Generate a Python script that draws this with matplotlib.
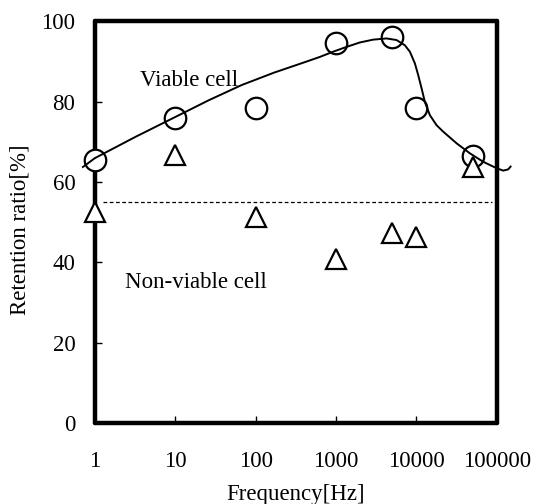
import matplotlib
matplotlib.use("Agg")
import matplotlib.pyplot as plt

plt.rcParams['font.family'] = ['Liberation Serif', 'DejaVu Serif']

# measured points
freq = [1, 10, 100, 1000, 5000, 10000, 50000]
viable = [65.5, 76, 78.5, 94.5, 96, 78.4, 66.4]
nonviable = [52.5, 66.7, 51.3, 40.8, 47.2, 46.3, 63.7]

# fitted curve drawn by hand in the original
curve_f = [0.71, 1, 3.2, 9.9, 26, 67, 170, 409, 629, 920, 1352, 1977, 2893,
           4244, 5653, 7171, 8279, 9550, 10500, 11570, 12710, 14680, 17780,
           21480, 31530, 46150, 67550, 99130, 119700, 138300, 148000]
curve_v = [63.7, 65.9, 71.2, 76.1, 80.3, 84.1, 87.2, 89.8, 91.1, 92.4, 93.6,
           94.7, 95.4, 95.7, 95.3, 94.0, 92.4, 89.5, 86.6, 83.3, 79.9, 76.6,
           74.1, 72.5, 69.6, 67.1, 65.0, 63.4, 62.8, 63.1, 63.8]

threshold = 55
threshold_f = [1.25, 87000]

xticks = [1, 10, 100, 1000, 10000, 100000]
yticks = [0, 20, 40, 60, 80, 100]

fig = plt.figure(figsize=(5.36, 5.04), dpi=100)
ax = fig.add_axes([0.177, 0.161, 0.75, 0.797])

ax.plot(curve_f, curve_v, 'k-', lw=1.4, clip_on=False, zorder=4,
        solid_joinstyle='round')
ax.plot(threshold_f, [threshold, threshold], 'k--', lw=0.9, dashes=(3, 2))
ax.plot(freq, viable, 'o', ms=15.5, mfc='white', mec='k', mew=1.6,
        clip_on=False, zorder=3)
ax.plot(freq, nonviable, '^', ms=15, mfc='white', mec='k', mew=1.6,
        clip_on=False, zorder=3)

fs = 16.5
ax.text(3.6, 85.3, 'Viable cell', fontsize=fs, va='center', ha='left')
ax.text(2.4, 35, 'Non-viable cell', fontsize=fs, va='center', ha='left')

ax.set_xscale('log')
ax.set_xlim(1, 100000)
ax.set_ylim(0, 100)
ax.set_xticks(xticks)
ax.set_xticklabels([str(t) for t in xticks])
ax.minorticks_off()
ax.set_yticks(yticks)
ax.tick_params(axis='x', direction='in', length=5, width=1, pad=20, labelsize=fs)
ax.tick_params(axis='y', direction='in', length=5, width=1, pad=14, labelsize=fs)
for s in ax.spines.values():
    s.set_linewidth(3.2)
    s.set_capstyle('round')

ax.set_xlabel('Frequency[Hz]', fontsize=fs, labelpad=9)
ax.set_ylabel('Retention ratio[%]', fontsize=fs)
ax.yaxis.set_label_coords(-0.16, 0.48)

fig.savefig('out.png', dpi=100)
